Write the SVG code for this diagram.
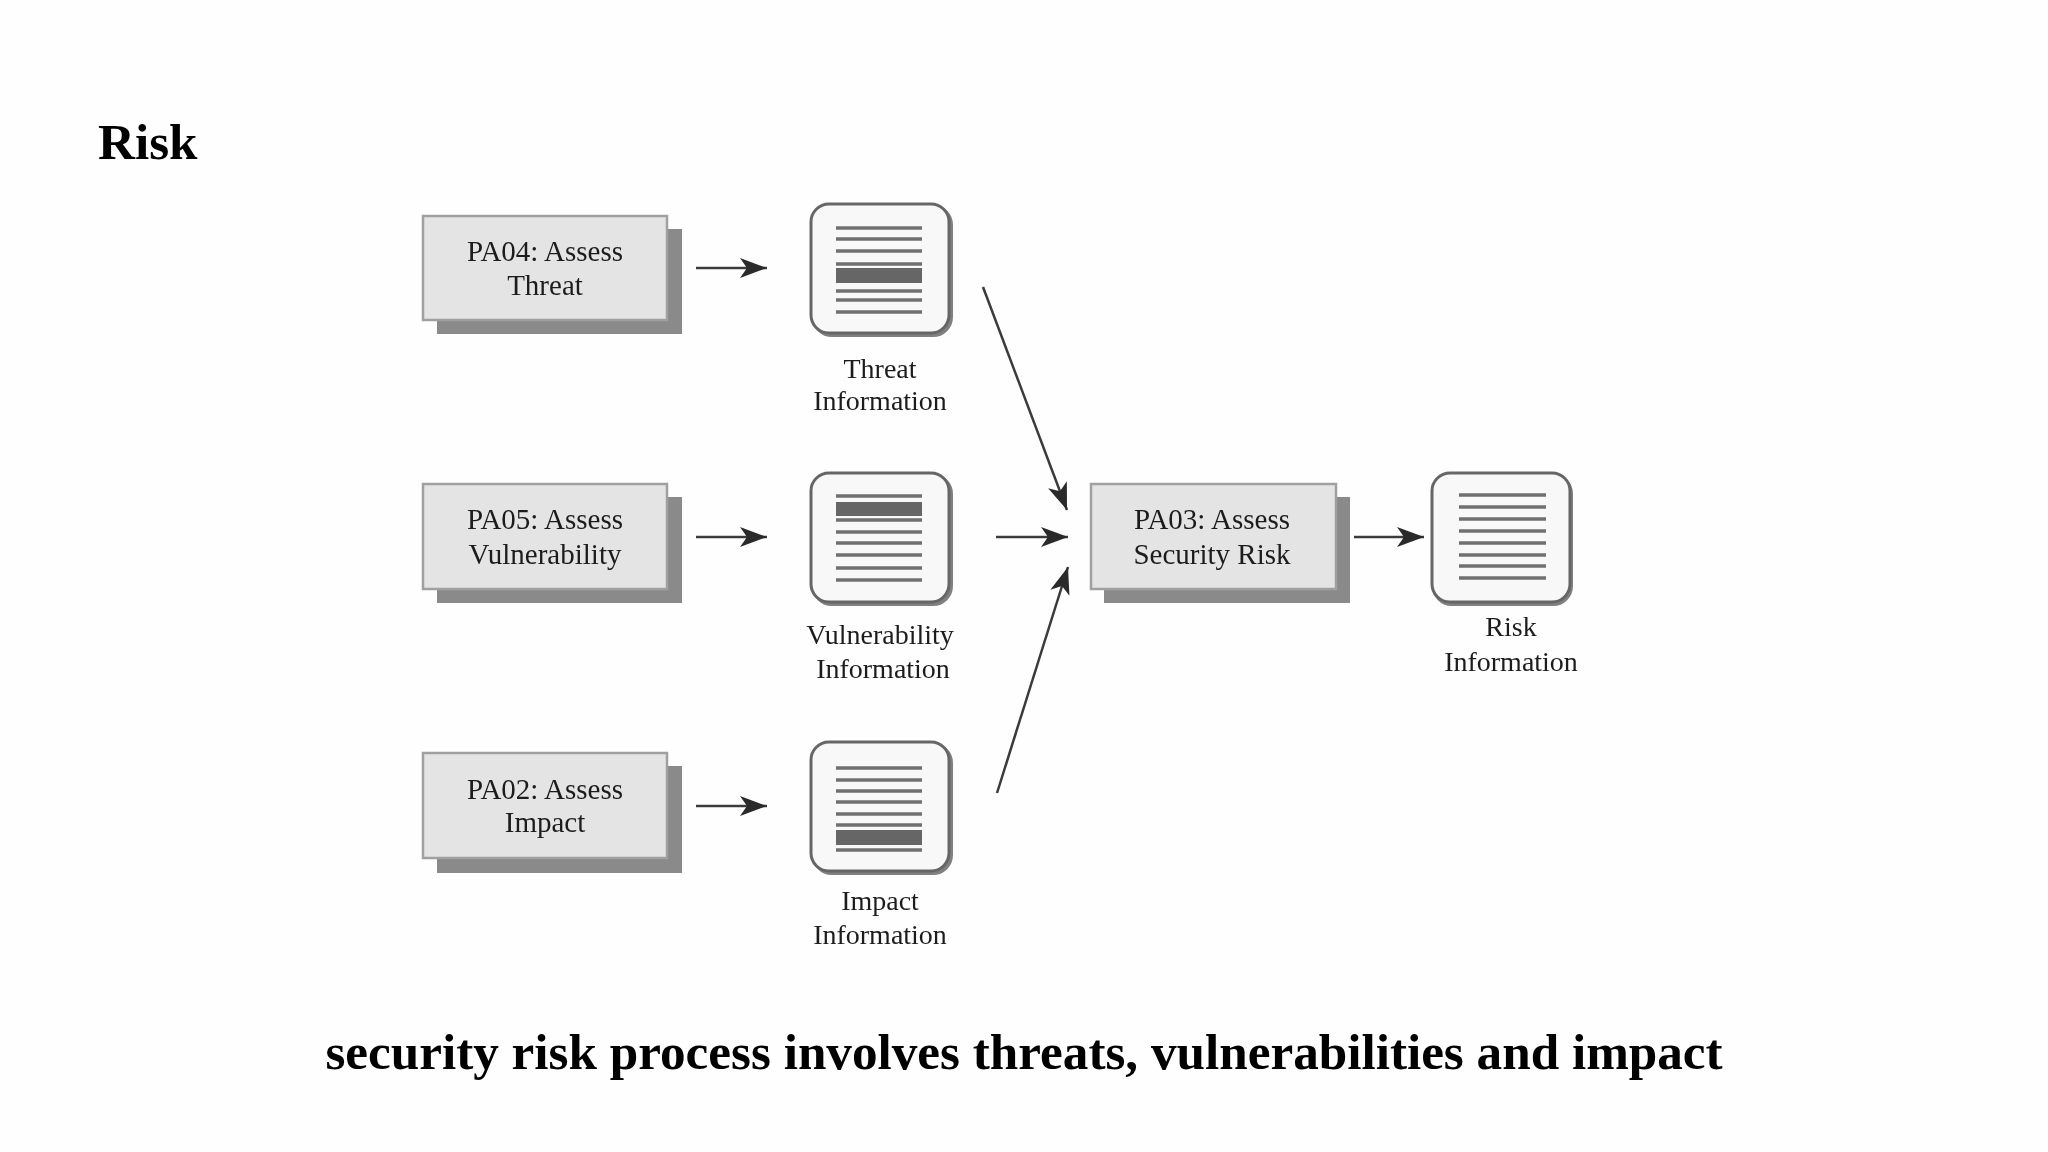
<svg xmlns="http://www.w3.org/2000/svg" width="2048" height="1152" viewBox="0 0 2048 1152">
<style>
text{font-family:"Liberation Serif","Times New Roman",serif;fill:#1c1c1c;text-anchor:middle}
.lbl{font-size:28px}
.blbl{font-size:29px}
.head{font-size:51.2px;font-weight:bold;fill:#000}
.box{fill:#e4e4e4;stroke:#a0a0a0;stroke-width:2.5}
.sh{fill:#8a8a8a}
.doc{fill:#f8f8f8;stroke:#666;stroke-width:3}
.docsh{fill:none;stroke:#808080;stroke-width:4}
.ln{stroke:#707070;stroke-width:3.5}
.band{fill:#666}
.arr{stroke:#3a3a3a;stroke-width:2.5;fill:none;marker-end:url(#ah)}
</style>
<defs>
<marker id="ah" markerUnits="userSpaceOnUse" markerWidth="30" markerHeight="24" refX="27" refY="12" orient="auto"><path d="M0 2 L27 12 L0 22 L7 12Z" fill="#2a2a2a"/></marker>
<filter id="soft" x="-2%" y="-2%" width="104%" height="104%"><feGaussianBlur stdDeviation="0.6"/></filter>
</defs>
<rect width="2048" height="1152" fill="#fefefe"/>
<text id="title" class="head" x="98" y="159" style="text-anchor:start">Risk</text>
<g filter="url(#soft)">
<g id="pa04"><rect class="sh" x="437" y="229" width="245" height="105"/><rect class="box" x="423" y="216" width="244" height="104"/><text class="blbl" x="545" y="261">PA04: Assess</text><text class="blbl" x="545" y="295">Threat</text></g>
<g id="pa05"><rect class="sh" x="437" y="497" width="245" height="106"/><rect class="box" x="423" y="484" width="244" height="105"/><text class="blbl" x="545" y="529">PA05: Assess</text><text class="blbl" x="545" y="564">Vulnerability</text></g>
<g id="pa02"><rect class="sh" x="437" y="766" width="245" height="107"/><rect class="box" x="423" y="753" width="244" height="105"/><text class="blbl" x="545" y="799">PA02: Assess</text><text class="blbl" x="545" y="832">Impact</text></g>
<g id="pa03"><rect class="sh" x="1104" y="497" width="246" height="106"/><rect class="box" x="1091" y="484" width="245" height="105"/><text class="blbl" x="1212" y="529">PA03: Assess</text><text class="blbl" x="1212" y="564">Security Risk</text></g>
<g id="threat-info"><rect class="docsh" x="814" y="207" width="137" height="128" rx="18"/><rect class="doc" x="811" y="204" width="138" height="129" rx="18"/>
<path class="ln" d="M836 228H922M836 239H922M836 251H922M836 264H922M836 291H922M836 300H922M836 312H922"/><rect class="band" x="836" y="268" width="86" height="15"/>
<text class="lbl" x="880" y="378">Threat</text><text class="lbl" x="880" y="410">Information</text></g>
<g id="vuln-info"><rect class="docsh" x="814" y="476" width="137" height="128" rx="18"/><rect class="doc" x="811" y="473" width="138" height="129" rx="18"/>
<path class="ln" d="M836 496H922M836 520H922M836 532H922M836 543H922M836 555H922M836 568H922M836 580H922"/><rect class="band" x="836" y="502" width="86" height="14"/>
<text class="lbl" x="880" y="644">Vulnerability</text><text class="lbl" x="883" y="678">Information</text></g>
<g id="impact-info"><rect class="docsh" x="814" y="745" width="137" height="128" rx="18"/><rect class="doc" x="811" y="742" width="138" height="129" rx="18"/>
<path class="ln" d="M836 768H922M836 780H922M836 791H922M836 802H922M836 814H922M836 825H922M836 850H922"/><rect class="band" x="836" y="830" width="86" height="15"/>
<text class="lbl" x="880" y="910">Impact</text><text class="lbl" x="880" y="944">Information</text></g>
<g id="risk-info"><rect class="docsh" x="1434" y="476" width="137" height="128" rx="18"/><rect class="doc" x="1432" y="473" width="138" height="129" rx="18"/>
<path class="ln" d="M1459 495H1546M1459 507H1546M1459 519H1546M1459 531H1546M1459 543H1546M1459 555H1546M1459 566H1546M1459 578H1546"/>
<text class="lbl" x="1511" y="636">Risk</text><text class="lbl" x="1511" y="671">Information</text></g>
<g id="connectors">
<path class="arr" d="M696 268H767"/><path class="arr" d="M696 537H767"/><path class="arr" d="M696 806H767"/>
<path class="arr" d="M996 537H1068"/><path class="arr" d="M1354 537H1424"/>
<path class="arr" d="M983 287L1067 510"/><path class="arr" d="M997 793L1068 567"/>
</g>
</g>
<text id="caption" class="head" x="1024" y="1069">security risk process involves threats, vulnerabilities and impact</text>
</svg>
